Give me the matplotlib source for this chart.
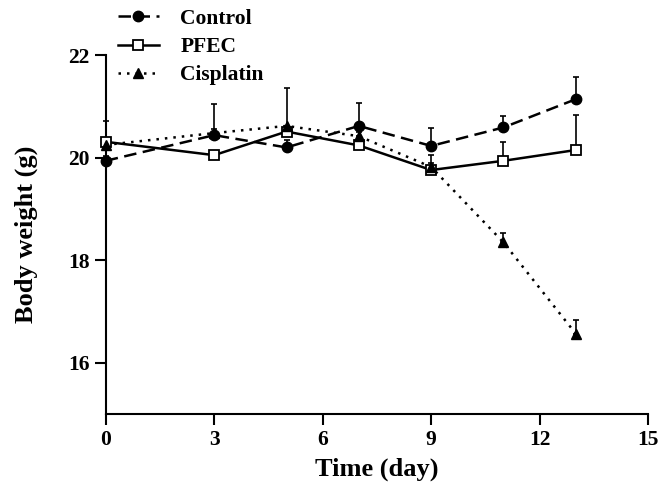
import matplotlib
matplotlib.use("Agg")
import matplotlib.pyplot as plt
import numpy as np

plt.rcParams['font.family'] = ['Liberation Serif', 'DejaVu Serif']
plt.rcParams['font.weight'] = 'bold'

days = [0, 3, 5, 7, 9, 11, 13]
control = [19.94, 20.44, 20.20, 20.62, 20.23, 20.59, 21.14]
control_err = [0.10, 0.60, 0.15, 0.45, 0.35, 0.22, 0.44]
pfec = [20.31, 20.05, 20.51, 20.24, 19.76, 19.94, 20.15]
pfec_err = [0.40, 0.08, 0.08, 0.08, 0.30, 0.37, 0.68]
cisplatin = [20.25, 20.48, 20.62, 20.42, 19.82, 18.35, 16.57]
cisplatin_err = [0.08, 0.08, 0.73, 0.08, 0.08, 0.18, 0.27]

labels = ["Control", "PFEC", "Cisplatin"]
xticks = [0, 3, 6, 9, 12, 15]
yticks = [16, 18, 20, 22]

fig = plt.figure(figsize=(6.62, 4.92), dpi=100)
ax = fig.add_axes([0.1597, 0.158, 0.979 - 0.1597, 0.888 - 0.158])

series = [
    (control, control_err, dict(linestyle=(0, (5, 2.6)), marker='o', markersize=7.5,
                                markerfacecolor='black')),
    (pfec, pfec_err, dict(linestyle='-', marker='s', markersize=7.8,
                          markerfacecolor='white', markeredgewidth=1.3)),
    (cisplatin, cisplatin_err, dict(linestyle=(0, (1, 2.4)), marker='^', markersize=7.5,
                                    markerfacecolor='black')),
]

handles = []
for (vals, errs, style), lab in zip(series, labels):
    ax.errorbar(days, vals, yerr=[np.zeros(len(errs)), errs], fmt='none',
                ecolor='black', elinewidth=1.2, capsize=2.5, capthick=1.2,
                zorder=2, clip_on=False)
    ln, = ax.plot(days, vals, color='black', linewidth=1.8, markeredgecolor='black',
                  label=lab, zorder=3, clip_on=False, **style)
    handles.append(ln)

ax.set_xlim(0, 15)
ax.set_ylim(15, 22)
ax.set_xticks(xticks)
ax.set_yticks(yticks)
ax.tick_params(axis='both', labelsize=15.5, width=1.5, length=8, direction='out')
for lab in ax.get_xticklabels() + ax.get_yticklabels():
    lab.set_fontweight('bold')
ax.spines['top'].set_visible(False)
ax.spines['right'].set_visible(False)
for s in ['left', 'bottom']:
    ax.spines[s].set_linewidth(1.5)

ax.set_xlabel("Time (day)", fontsize=19, fontweight='bold', labelpad=5)
ax.set_ylabel("Body weight (g)", fontsize=19, fontweight='bold')
ax.yaxis.set_label_coords(-(105.7 - 38) / (648 - 105.7), 0.5)

fig.legend(handles=handles, labels=labels, loc='upper left',
           bbox_to_anchor=(107 / 662, 1 + 2 / 492), frameon=False,
           prop={'family': 'Liberation Serif', 'weight': 'bold', 'size': 15.5},
           handlelength=1.9, handletextpad=1.0, labelspacing=0.38,
           borderpad=0.0)

fig.savefig("out.png", dpi=100)
